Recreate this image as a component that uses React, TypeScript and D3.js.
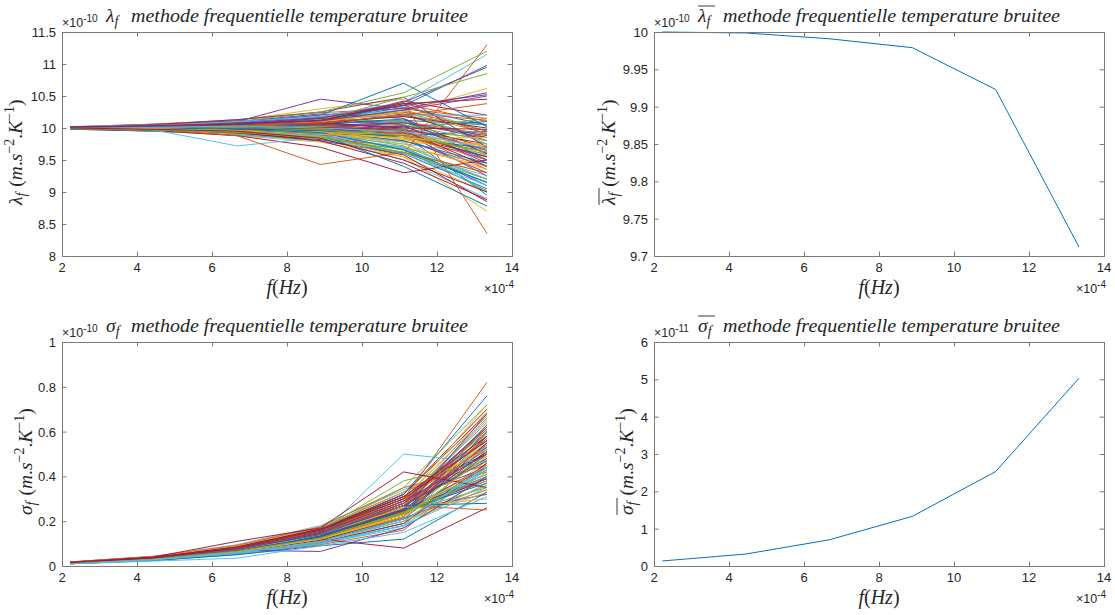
import React from "react";
import * as d3 from "d3";

// frequencies, in units of 1e-4 Hz
const freqs = [2.2222, 4.4444, 6.6667, 8.8889, 11.1111, 13.3333];
const xTicks = [2, 4, 6, 8, 10, 12, 14];

// lambda_f runs (units of 1e-10)
const lambdaRuns = [
  [10.0, 10.01, 10.03, 10.06, 10.12, 10.05],
  [9.99, 9.98, 9.95, 9.9, 9.8, 9.4],
  [10.01, 10.04, 10.07, 10.12, 10.25, 9.75],
  [10.0, 9.97, 9.92, 9.85, 9.7, 9.1],
  [9.99, 10.02, 9.99, 10.04, 9.95, 9.85],
  [10.02, 10.03, 10.1, 10.2, 10.35, 9.95],
  [10.0, 9.99, 10.01, 9.95, 9.88, 9.55],
  [9.98, 9.95, 9.9, 9.8, 9.62, 9.15],
  [10.01, 10.0, 9.96, 10.02, 10.1, 9.9],
  [10.0, 10.05, 10.12, 10.3, 10.45, 9.55],
  [9.99, 10.0, 10.04, 9.98, 9.85, 9.3],
  [10.01, 9.98, 10.0, 10.08, 10.18, 10.05],
  [10.0, 10.02, 9.97, 9.88, 9.75, 9.6],
  [10.02, 10.06, 10.11, 10.15, 10.05, 9.7],
  [9.98, 9.97, 9.98, 9.92, 10.02, 10.1],
  [10.0, 10.01, 10.05, 10.11, 10.28, 9.95],
  [10.01, 9.96, 9.88, 9.78, 9.55, 9.0],
  [10.0, 10.03, 10.02, 9.97, 9.93, 9.25],
  [9.99, 10.01, 10.08, 10.06, 10.2, 9.85],
  [10.0, 9.99, 9.93, 9.9, 9.68, 9.45],
  [10.01, 10.02, 10.0, 10.01, 9.98, 9.75],
  [9.99, 9.95, 9.96, 10.0, 9.9, 8.95],
  [10.0, 10.04, 10.06, 10.18, 10.38, 10.1],
  [10.02, 10.0, 9.95, 9.85, 9.82, 9.65],
  [9.98, 10.0, 10.03, 10.09, 9.98, 9.5],
  [10.0, 9.98, 9.97, 9.93, 9.72, 9.2],
  [10.01, 10.03, 10.09, 10.0, 10.12, 9.4],
  [10.0, 10.01, 9.99, 10.05, 10.22, 9.8],
  [9.99, 9.97, 9.94, 9.8, 9.6, 9.05],
  [10.01, 10.06, 10.13, 10.24, 10.3, 10.15],
  [10.0, 10.0, 10.02, 9.95, 9.78, 9.7],
  [9.98, 9.96, 10.0, 10.04, 10.08, 9.88],
  [10.02, 10.04, 10.07, 10.14, 10.1, 9.6],
  [10.0, 9.98, 9.9, 9.86, 9.5, 8.9],
  [10.01, 10.01, 10.04, 10.1, 10.42, 10.2],
  [9.99, 10.02, 9.98, 9.92, 9.88, 9.95],
  [10.0, 9.99, 10.01, 10.07, 9.95, 9.35],
  [10.01, 10.03, 10.05, 9.99, 9.82, 9.75],
  [10.0, 9.97, 9.95, 9.96, 10.04, 9.45],
  [9.99, 10.0, 10.06, 10.16, 10.25, 9.92],
  [10.02, 10.05, 10.03, 9.94, 9.65, 9.25],
  [10.0, 10.01, 9.97, 9.89, 9.92, 9.55],
  [9.98, 9.98, 10.02, 10.12, 10.32, 10.05],
  [10.01, 10.02, 10.08, 10.04, 9.9, 9.62],
  [10.0, 9.96, 9.91, 9.83, 9.7, 9.4],
  [10.0, 10.03, 10.1, 10.22, 10.15, 9.6],
  [9.99, 10.0, 9.99, 10.03, 10.05, 9.8],
  [10.01, 9.99, 9.94, 9.91, 9.78, 9.1],
  [10.0, 10.02, 10.04, 10.09, 10.18, 10.0],
  [10.02, 10.01, 9.98, 9.96, 9.85, 9.68],
  [9.99, 10.04, 10.08, 10.13, 10.36, 9.9],
  [10.0, 9.97, 9.96, 9.87, 9.62, 9.3],
  [10.01, 10.0, 10.03, 10.0, 10.08, 9.85],
  [9.98, 9.99, 9.95, 9.9, 9.98, 10.15],
  [10.0, 10.02, 10.07, 10.17, 10.28, 9.75],
  [10.01, 9.98, 9.92, 9.82, 9.58, 8.85],
  [10.0, 10.01, 10.0, 10.06, 10.14, 9.5],
  [9.99, 10.03, 10.06, 9.98, 9.88, 9.5],
  [10.02, 10.0, 9.97, 9.93, 9.9, 9.72],
  [10.0, 10.05, 10.13, 10.25, 10.48, 9.7],
  [9.99, 9.98, 10.0, 10.02, 9.94, 9.58],
  [10.01, 9.95, 9.89, 9.8, 9.68, 9.2],
  [10.0, 10.02, 10.05, 10.08, 10.0, 9.98],
  [9.98, 10.0, 10.02, 9.95, 9.8, 9.45],
  [10.01, 10.04, 10.02, 10.1, 10.24, 10.12],
  [10.0, 9.99, 9.96, 9.94, 9.84, 9.85],
  [10.02, 10.03, 10.09, 10.05, 10.02, 9.65],
  [9.99, 9.97, 9.93, 9.84, 9.66, 9.02],
  [10.0, 10.01, 10.04, 10.13, 10.2, 10.2],
  [10.01, 10.0, 9.98, 10.01, 9.96, 9.4],
  [10.0, 10.03, 10.08, 10.2, 10.7, 10.02],
  [10.01, 10.02, 10.05, 10.1, 10.4, 8.35],
  [10.0, 9.98, 9.95, 9.85, 9.55, 8.7],
  [10.01, 10.03, 10.1, 10.45, 10.3, 10.55],
  [10.0, 10.04, 10.1, 10.25, 10.55, 11.2],
  [10.0, 10.03, 10.1, 10.18, 10.4, 11.15],
  [10.0, 9.96, 9.88, 9.7, 9.3, 9.5],
  [10.01, 10.02, 10.06, 10.12, 10.35, 10.98],
  [9.99, 9.98, 9.95, 9.9, 9.6, 11.3],
  [10.0, 10.02, 10.06, 10.1, 10.25, 10.62],
  [9.99, 10.01, 10.05, 10.15, 10.4, 10.95],
  [10.0, 10.01, 10.03, 10.12, 10.48, 10.85],
  [10.0, 9.97, 9.72, 9.85, 9.6, 9.1],
  [10.01, 9.99, 9.93, 9.8, 9.45, 8.88],
  [10.0, 9.99, 9.97, 9.9, 9.4, 8.78],
  [9.99, 9.98, 9.88, 9.43, 9.62, 9.3],
  [10.0, 10.01, 9.97, 9.94, 9.75, 9.35],
  [10.01, 10.04, 10.07, 10.16, 10.35, 10.52],
  [9.99, 9.99, 10.01, 9.97, 9.88, 9.62],
  [10.0, 9.98, 9.94, 9.88, 9.7, 9.0],
  [10.01, 10.03, 10.06, 10.12, 10.38, 10.45],
  [10.0, 10.0, 9.98, 9.93, 9.66, 9.15],
  [9.99, 10.02, 10.04, 10.08, 10.2, 10.38],
  [10.0, 9.99, 9.96, 9.9, 9.85, 9.72],
  [10.01, 10.02, 10.05, 10.11, 10.28, 10.5],
  [10.0, 9.97, 9.93, 9.86, 9.62, 9.2],
  [9.99, 10.01, 10.03, 10.0, 9.95, 9.68],
  [10.0, 9.98, 9.95, 9.84, 9.5, 9.0],
];

// sigma_f runs (units of 1e-10)
const sigmaRuns = [
  [0.013, 0.03, 0.065, 0.12, 0.22, 0.58],
  [0.015, 0.035, 0.075, 0.14, 0.26, 0.38],
  [0.01, 0.028, 0.06, 0.11, 0.2, 0.47],
  [0.016, 0.038, 0.085, 0.16, 0.3, 0.44],
  [0.012, 0.025, 0.055, 0.1, 0.18, 0.52],
  [0.014, 0.033, 0.07, 0.13, 0.24, 0.62],
  [0.018, 0.042, 0.09, 0.17, 0.33, 0.5],
  [0.011, 0.03, 0.062, 0.12, 0.21, 0.36],
  [0.013, 0.036, 0.078, 0.15, 0.28, 0.66],
  [0.015, 0.028, 0.058, 0.105, 0.19, 0.42],
  [0.012, 0.032, 0.072, 0.135, 0.25, 0.55],
  [0.017, 0.04, 0.08, 0.15, 0.29, 0.48],
  [0.01, 0.026, 0.056, 0.1, 0.17, 0.4],
  [0.014, 0.034, 0.068, 0.125, 0.23, 0.6],
  [0.016, 0.037, 0.082, 0.155, 0.31, 0.53],
  [0.012, 0.029, 0.064, 0.115, 0.215, 0.34],
  [0.013, 0.031, 0.07, 0.14, 0.27, 0.69],
  [0.015, 0.036, 0.076, 0.13, 0.24, 0.45],
  [0.011, 0.027, 0.06, 0.12, 0.22, 0.57],
  [0.018, 0.044, 0.095, 0.18, 0.34, 0.49],
  [0.013, 0.03, 0.066, 0.125, 0.235, 0.39],
  [0.014, 0.035, 0.074, 0.14, 0.26, 0.63],
  [0.01, 0.024, 0.052, 0.095, 0.16, 0.46],
  [0.016, 0.039, 0.084, 0.16, 0.3, 0.54],
  [0.012, 0.033, 0.071, 0.13, 0.25, 0.32],
  [0.015, 0.034, 0.073, 0.145, 0.28, 0.59],
  [0.013, 0.029, 0.061, 0.115, 0.2, 0.43],
  [0.017, 0.041, 0.088, 0.165, 0.32, 0.7],
  [0.011, 0.028, 0.059, 0.11, 0.21, 0.5],
  [0.014, 0.032, 0.069, 0.13, 0.255, 0.41],
  [0.012, 0.03, 0.067, 0.12, 0.23, 0.56],
  [0.016, 0.037, 0.079, 0.15, 0.27, 0.47],
  [0.013, 0.035, 0.075, 0.14, 0.29, 0.64],
  [0.01, 0.025, 0.054, 0.1, 0.18, 0.37],
  [0.015, 0.036, 0.077, 0.15, 0.28, 0.52],
  [0.014, 0.031, 0.066, 0.125, 0.24, 0.6],
  [0.018, 0.043, 0.092, 0.175, 0.35, 0.45],
  [0.012, 0.028, 0.06, 0.11, 0.2, 0.33],
  [0.013, 0.033, 0.071, 0.135, 0.26, 0.58],
  [0.015, 0.038, 0.081, 0.155, 0.3, 0.67],
  [0.011, 0.027, 0.058, 0.105, 0.19, 0.44],
  [0.016, 0.034, 0.072, 0.14, 0.27, 0.51],
  [0.013, 0.032, 0.068, 0.13, 0.25, 0.4],
  [0.014, 0.036, 0.079, 0.145, 0.27, 0.61],
  [0.012, 0.029, 0.063, 0.12, 0.22, 0.49],
  [0.017, 0.04, 0.086, 0.16, 0.31, 0.56],
  [0.013, 0.031, 0.067, 0.13, 0.24, 0.35],
  [0.015, 0.035, 0.074, 0.14, 0.28, 0.65],
  [0.01, 0.026, 0.057, 0.105, 0.19, 0.46],
  [0.014, 0.033, 0.07, 0.135, 0.25, 0.53],
  [0.016, 0.039, 0.083, 0.16, 0.31, 0.42],
  [0.012, 0.03, 0.064, 0.12, 0.23, 0.59],
  [0.013, 0.034, 0.073, 0.14, 0.27, 0.48],
  [0.015, 0.032, 0.069, 0.125, 0.235, 0.38],
  [0.011, 0.029, 0.062, 0.115, 0.21, 0.54],
  [0.017, 0.041, 0.087, 0.165, 0.32, 0.68],
  [0.013, 0.031, 0.066, 0.13, 0.25, 0.44],
  [0.014, 0.036, 0.076, 0.145, 0.28, 0.57],
  [0.012, 0.027, 0.059, 0.11, 0.2, 0.36],
  [0.016, 0.038, 0.08, 0.155, 0.29, 0.62],
  [0.013, 0.032, 0.069, 0.13, 0.24, 0.5],
  [0.015, 0.034, 0.072, 0.14, 0.26, 0.41],
  [0.011, 0.028, 0.061, 0.115, 0.22, 0.55],
  [0.014, 0.035, 0.075, 0.145, 0.27, 0.47],
  [0.012, 0.03, 0.065, 0.125, 0.23, 0.63],
  [0.017, 0.042, 0.089, 0.17, 0.33, 0.52],
  [0.013, 0.033, 0.07, 0.135, 0.255, 0.39],
  [0.015, 0.037, 0.078, 0.15, 0.29, 0.6],
  [0.01, 0.025, 0.055, 0.1, 0.18, 0.43],
  [0.014, 0.031, 0.067, 0.13, 0.245, 0.51],
  [0.014, 0.035, 0.075, 0.16, 0.32, 0.76],
  [0.015, 0.036, 0.08, 0.15, 0.3, 0.82],
  [0.013, 0.032, 0.07, 0.14, 0.29, 0.72],
  [0.012, 0.028, 0.07, 0.065, 0.17, 0.4],
  [0.014, 0.034, 0.078, 0.16, 0.35, 0.72],
  [0.012, 0.03, 0.065, 0.14, 0.5, 0.46],
  [0.013, 0.028, 0.06, 0.12, 0.08, 0.26],
  [0.011, 0.025, 0.05, 0.09, 0.12, 0.33],
  [0.013, 0.03, 0.065, 0.12, 0.27, 0.25],
  [0.014, 0.033, 0.072, 0.14, 0.26, 0.3],
  [0.013, 0.031, 0.068, 0.13, 0.25, 0.68],
  [0.015, 0.037, 0.082, 0.16, 0.38, 0.47],
  [0.01, 0.022, 0.035, 0.09, 0.15, 0.31],
  [0.016, 0.04, 0.11, 0.17, 0.42, 0.35],
  [0.014, 0.034, 0.074, 0.14, 0.27, 0.28],
  [0.015, 0.036, 0.078, 0.15, 0.29, 0.61],
  [0.012, 0.029, 0.063, 0.12, 0.22, 0.49],
  [0.014, 0.034, 0.074, 0.145, 0.28, 0.62],
  [0.013, 0.031, 0.066, 0.125, 0.24, 0.43],
  [0.011, 0.027, 0.058, 0.105, 0.18, 0.35],
  [0.016, 0.039, 0.085, 0.165, 0.31, 0.58],
  [0.013, 0.032, 0.068, 0.13, 0.25, 0.37],
  [0.015, 0.035, 0.076, 0.15, 0.27, 0.54],
  [0.012, 0.03, 0.064, 0.12, 0.23, 0.45],
  [0.014, 0.036, 0.078, 0.15, 0.29, 0.5],
  [0.013, 0.03, 0.066, 0.125, 0.24, 0.4],
  [0.012, 0.028, 0.06, 0.11, 0.2, 0.44],
  [0.015, 0.037, 0.08, 0.16, 0.3, 0.56],
];

// means
const lambdaMean = [10.0, 9.9987, 9.991, 9.979, 9.923, 9.712]; // x 1e-10
const sigmaMean = [0.135, 0.32, 0.7, 1.33, 2.53, 5.03]; // x 1e-11

const lambdaTicks = [8, 8.5, 9, 9.5, 10, 10.5, 11, 11.5];
const lambdaMeanTicks = [9.7, 9.75, 9.8, 9.85, 9.9, 9.95, 10];
const sigmaTicks = [0, 0.2, 0.4, 0.6, 0.8, 1];
const sigmaMeanTicks = [0, 1, 2, 3, 4, 5, 6];

const palette = ["#0072BD", "#D95319", "#EDB120", "#7E2F8E", "#77AC30", "#4DBEEE", "#A2142F"];
const W = 450;
const H = 224;
const COLS = [62, 654];
const ROWS = [32, 342];
const SERIF = "'Liberation Serif', 'DejaVu Serif', serif";
const SANS = "'Liberation Sans', Arial, Helvetica, sans-serif";
const INK = "#262626";
const AXIS = "#7a7a7a";
const TITLE_TEXT = "methode frequentielle temperature bruitee";

const serifI = { fontFamily: SERIF, fontStyle: "italic" };
const sans = { fontFamily: SANS };

function YLabel({ x, cy, sym, bar }) {
  const a0 = -61;
  return (
    <g transform={`translate(${x},${cy}) rotate(-90)`}>
      <text x={a0} y={6} style={serifI} fontSize={19.5} fill={INK}>
        {sym}
        <tspan fontSize={14} dy={4}>f</tspan>
        <tspan dy={-4} dx={6} style={{ fontStyle: "normal" }}>(</tspan>
        <tspan>m</tspan>
        <tspan style={{ fontStyle: "normal" }}>.</tspan>
        <tspan>s</tspan>
        <tspan fontSize={14} dy={-8} style={{ fontStyle: "normal" }}>−2</tspan>
        <tspan dy={8} style={{ fontStyle: "normal" }}>.</tspan>
        <tspan>K</tspan>
        <tspan fontSize={14} dy={-8} style={{ fontStyle: "normal" }}>−1</tspan>
        <tspan dy={8} style={{ fontStyle: "normal" }}>)</tspan>
      </text>
      {bar && <line x1={a0} x2={a0 + 17} y1={-10} y2={-10} stroke={INK} strokeWidth={0.9} />}
    </g>
  );
}

function Panel({ left, top, yDomain, yTicks, runs, single, exp, sym, bar, yLabelX }) {
  const x = d3.scaleLinear().domain([2, 14]).range([left, left + W]);
  const y = d3.scaleLinear().domain(yDomain).range([top + H, top]);
  const line = d3
    .line()
    .x((_, i) => x(freqs[i]))
    .y((d) => y(d));
  const clipId = `clip-${left}-${top}`;
  const cx = left + W / 2;
  const ts = cx - 181;
  const series = single ? [single] : runs;
  return (
    <g>
      <defs>
        <clipPath id={clipId}>
          <rect x={left} y={top - 1} width={W} height={H + 2} />
        </clipPath>
      </defs>
      <g clipPath={`url(#${clipId})`}>
        {series.map((r, i) => (
          <path
            key={i}
            d={line(r)}
            fill="none"
            stroke={palette[i % palette.length]}
            strokeWidth={single ? 1 : 0.95}
          />
        ))}
      </g>
      <rect x={left + 0.5} y={top + 0.5} width={W} height={H} fill="none" stroke={AXIS} strokeWidth={1} />
      {xTicks.map((t) => (
        <g key={"x" + t}>
          <line x1={x(t) + 0.5} x2={x(t) + 0.5} y1={top + H} y2={top + H - 4.5} stroke={AXIS} />
          <line x1={x(t) + 0.5} x2={x(t) + 0.5} y1={top} y2={top + 4.5} stroke={AXIS} />
          <text x={x(t)} y={top + H + 16} textAnchor="middle" style={sans} fontSize={13} fill={INK}>
            {String(t)}
          </text>
        </g>
      ))}
      {yTicks.map((t) => (
        <g key={"y" + t}>
          <line x1={left} x2={left + 4.5} y1={y(t) + 0.5} y2={y(t) + 0.5} stroke={AXIS} />
          <line x1={left + W} x2={left + W - 4.5} y1={y(t) + 0.5} y2={y(t) + 0.5} stroke={AXIS} />
          <text x={left - 6} y={y(t) + 5} textAnchor="end" style={sans} fontSize={13} fill={INK}>
            {String(t)}
          </text>
        </g>
      ))}
      {/* y exponent */}
      <text x={left} y={top - 5} style={sans} fontSize={12.5} fill={INK}>
        ×10
        <tspan fontSize={10} dy={-5}>{exp}</tspan>
      </text>
      {/* title */}
      <text x={ts} y={top - 10} style={serifI} fontSize={19.5} fill={INK}>
        {sym}
        <tspan fontSize={14} dy={4}>f</tspan>
      </text>
      {bar && <line x1={ts} x2={ts + 17} y1={top - 26} y2={top - 26} stroke={INK} strokeWidth={0.9} />}
      <text
        x={ts + 25}
        y={top - 10}
        style={serifI}
        fontSize={19.5}
        fill={INK}
        textLength={337}
        lengthAdjust="spacingAndGlyphs"
      >
        {TITLE_TEXT}
      </text>
      {/* x label */}
      <text x={cx} y={top + H + 38} textAnchor="middle" style={serifI} fontSize={20} fill={INK}>
        f<tspan style={{ fontStyle: "normal" }}>(</tspan>Hz<tspan style={{ fontStyle: "normal" }}>)</tspan>
      </text>
      <text x={left + W + 2} y={top + H + 37} textAnchor="end" style={sans} fontSize={12.5} fill={INK}>
        ×10
        <tspan fontSize={10} dy={-5}>-4</tspan>
      </text>
      <YLabel x={yLabelX} cy={top + H / 2} sym={sym} bar={bar} />
    </g>
  );
}

export default function App() {
  return (
    <svg width={1115} height={615} style={{ display: "block", position: "absolute", left: 0, top: 0, background: "#fff" }}>
      <rect x={0} y={0} width={1115} height={615} fill="#fff" />
      <Panel left={COLS[0]} top={ROWS[0]} yDomain={[8, 11.5]} yTicks={lambdaTicks} runs={lambdaRuns} exp="-10" sym="λ" bar={false} yLabelX={16} />
      <Panel left={COLS[1]} top={ROWS[0]} yDomain={[9.7, 10]} yTicks={lambdaMeanTicks} single={lambdaMean} exp="-10" sym="λ" bar={true} yLabelX={609} />
      <Panel left={COLS[0]} top={ROWS[1]} yDomain={[0, 1]} yTicks={sigmaTicks} runs={sigmaRuns} exp="-10" sym="σ" bar={false} yLabelX={26} />
      <Panel left={COLS[1]} top={ROWS[1]} yDomain={[0, 6]} yTicks={sigmaMeanTicks} single={sigmaMean} exp="-11" sym="σ" bar={true} yLabelX={627} />
    </svg>
  );
}
